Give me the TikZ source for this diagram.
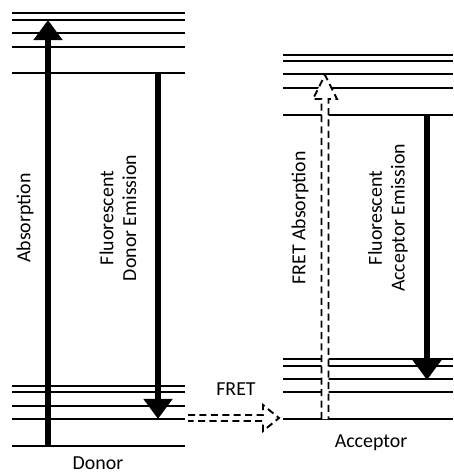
\documentclass[tikz,border=0pt]{standalone}
\usepackage{fontspec}
\setmainfont{Carlito}
\usetikzlibrary{arrows.meta, calc}

\tikzset{
    level/.style={line width=1.1pt},
    transition/.style={line width=2.9pt, -{Triangle[length=11.5pt, width=16pt]}},
    hollow/.style={line width=1.1pt, fill=white, dash pattern=on 4pt off 2.5pt},
    lbl/.style={font=\fontsize{11.3}{13}\selectfont, align=center},
}

\begin{document}
\begin{tikzpicture}[x=0.02cm, y=-0.02cm]
    \useasboundingbox (0,0) rectangle (453,472);
    % energy levels of the donor
    \foreach \y in {13, 20, 33, 47, 73, 386, 392, 406, 419, 446} {
        \draw[level] (12,\y) -- (185,\y);
    }
    % energy levels of the acceptor
    \foreach \y in {55, 61, 74, 88, 115, 359, 366, 379, 392, 419} {
        \draw[level] (283,\y) -- (453,\y);
    }

    \coordinate (dground) at (48,446);
    \coordinate (dhigh) at (48,20);
    \coordinate (dexc) at (158,73);
    \coordinate (dlow) at (158,419);
    \coordinate (aexc) at (427,115);
    \coordinate (alow) at (427,380);
    \coordinate (fretstart) at (188,418);
    \coordinate (fretend) at (279,418);
    \coordinate (abase) at (325,419);
    \coordinate (atop) at (325,75);

    \draw[transition] (dground) -- (dhigh);
    \draw[transition] (dexc) -- (dlow);
    \draw[transition] (aexc) -- (alow);

    % hollow dashed arrows
    \draw[hollow] ($(abase)+(-3.5,0)$) -- ($(atop)+(-3.5,24)$) -- ($(atop)+(-12,24)$)
        -- (atop) -- ($(atop)+(12,24)$) -- ($(atop)+(3.5,24)$) -- ($(abase)+(3.5,0)$);
    \draw[hollow] ($(fretstart)+(0,-3)$) -- ($(fretend)+(-16,-3)$) -- ($(fretend)+(-16,-13)$)
        -- (fretend) -- ($(fretend)+(-16,13)$) -- ($(fretend)+(-16,3)$) -- ($(fretstart)+(0,3)$);

    \node[lbl, rotate=90] (absorb) at (25,218) {Absorption};
    \node[lbl, rotate=90] (demit) at (118,218) {Fluorescent\\Donor Emission};
    \node[lbl, rotate=90] (fabs) at (300,218) {FRET Absorption};
    \node[lbl, rotate=90] (aemit) at (388,218) {Fluorescent\\Acceptor Emission};
    \node[lbl] (fret) at (236,389) {FRET};
    \node[lbl] (donor) at (98,463) {Donor};
    \node[lbl] (acceptor) at (371,443) {Acceptor};
\end{tikzpicture}
\end{document}
